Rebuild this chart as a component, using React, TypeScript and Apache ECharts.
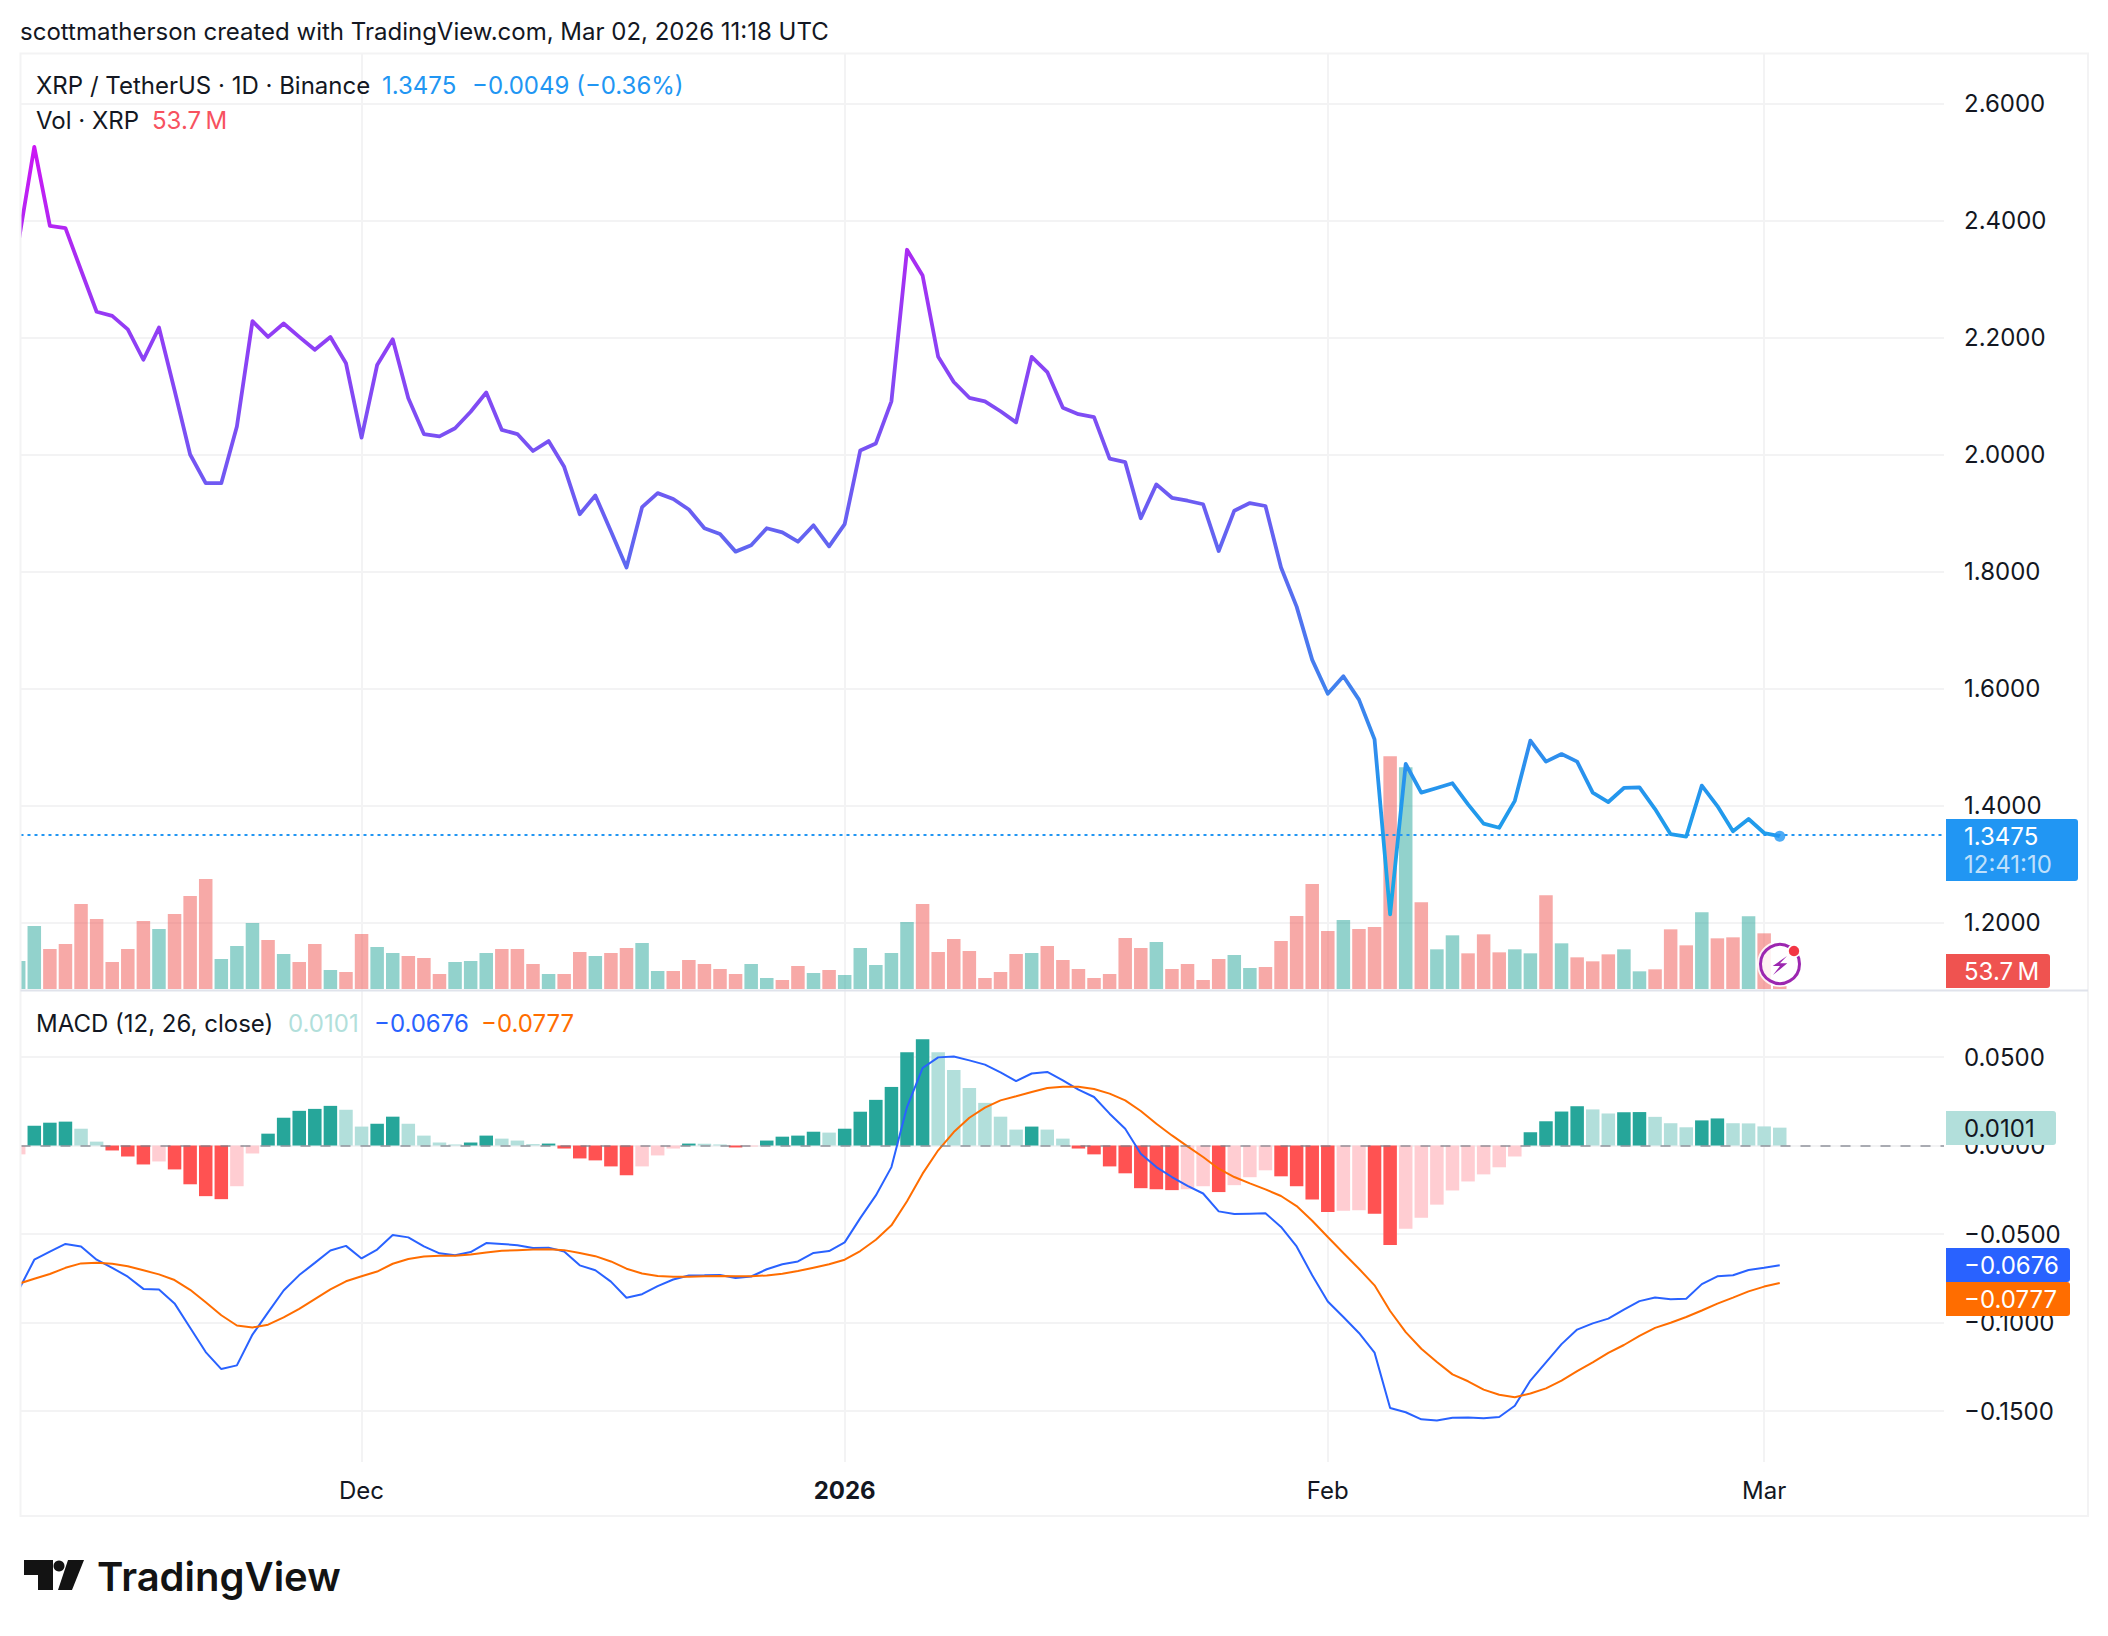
// App.tsx - XRP/USDT daily chart with volume and MACD panes
import React, { useEffect, useRef } from 'react';
import * as echarts from 'echarts';

// x values count days from Nov 9 2025
const priceTicks = [1.2, 1.4, 1.6, 1.8, 2.0, 2.2, 2.4, 2.6];
const macdTicks = [0.05, 0, -0.05, -0.1, -0.15];
const monthTicks = [22, 53, 84, 112];
const monthLabels = ['Dec', '{year|2026}', 'Feb', 'Mar'];

const closes = [
  2.365, 2.526, 2.391, 2.387, 2.315, 2.244, 2.237, 2.214, 2.162, 2.217,
  2.110, 2.000, 1.951, 1.951, 2.048, 2.228, 2.201, 2.224, 2.201, 2.179,
  2.201, 2.156, 2.029, 2.153, 2.197, 2.096, 2.035, 2.031, 2.045, 2.073,
  2.106, 2.042, 2.035, 2.006, 2.023, 1.979, 1.898, 1.930, 1.869, 1.807,
  1.910, 1.934, 1.924, 1.906, 1.874, 1.864, 1.834, 1.845, 1.874, 1.867,
  1.851, 1.879, 1.843, 1.881, 2.007, 2.019, 2.091, 2.350, 2.306, 2.167,
  2.124, 2.097, 2.091, 2.074, 2.055, 2.167, 2.141, 2.080, 2.069, 2.064,
  1.993, 1.987, 1.891, 1.949, 1.926, 1.921, 1.915, 1.835, 1.904, 1.917,
  1.912, 1.807, 1.740, 1.649, 1.591, 1.621, 1.581, 1.513, 1.214, 1.471,
  1.422, 1.430, 1.438, 1.402, 1.369, 1.362, 1.408, 1.511, 1.475, 1.488,
  1.475, 1.422, 1.406, 1.430, 1.431, 1.394, 1.351, 1.347, 1.434, 1.399,
  1.356, 1.377, 1.353, 1.3475,
];

// millions of XRP
const volumes = [
  504, 1134, 720, 810, 1530, 1260, 486, 720, 1224, 1080,
  1350, 1674, 1980, 540, 774, 1188, 882, 630, 486, 810,
  342, 306, 990, 756, 648, 594, 558, 270, 486, 504,
  648, 720, 720, 450, 270, 270, 666, 594, 648, 738,
  828, 324, 324, 522, 450, 360, 270, 450, 198, 162,
  414, 288, 342, 252, 738, 432, 648, 1206, 1530, 666,
  900, 684, 198, 306, 630, 648, 774, 522, 360, 198,
  270, 918, 738, 846, 360, 450, 162, 540, 612, 378,
  396, 864, 1314, 1890, 1044, 1242, 1080, 1116, 4188, 3990,
  1560, 714, 966, 642, 984, 660, 714, 642, 1686, 822,
  570, 498, 624, 714, 318, 354, 1074, 786, 1380, 912,
  930, 1308, 1002, 53.7,
];
const upDays = [
  0, 1, 9, 13, 14, 15, 17, 20, 23, 24, 28, 29, 30, 34, 37, 40, 41, 47, 48, 51,
  53, 54, 55, 56, 57, 65, 73, 78, 79, 85, 89, 91, 92, 96, 97, 99, 103, 104, 108, 111,
];

const histogram = [
  -0.0050, 0.0112, 0.0129, 0.0135, 0.0095, 0.0022, -0.0028, -0.0062, -0.0107, -0.0090,
  -0.0135, -0.0219, -0.0286, -0.0303, -0.0230, -0.0045, 0.0067, 0.0157, 0.0196, 0.0207,
  0.0224, 0.0202, 0.0107, 0.0123, 0.0163, 0.0123, 0.0056, 0.0017, 0.0006, 0.0017,
  0.0056, 0.0039, 0.0028, 0.0008, 0.0011, -0.0017, -0.0073, -0.0084, -0.0118, -0.0168,
  -0.0118, -0.0056, -0.0017, 0.0011, 0.0010, 0.0006, -0.0011, -0.0006, 0.0028, 0.0050,
  0.0056, 0.0078, 0.0073, 0.0095, 0.0191, 0.0258, 0.0331, 0.0527, 0.0600, 0.0527,
  0.0426, 0.0325, 0.0241, 0.0163, 0.0090, 0.0107, 0.0090, 0.0039, -0.0017, -0.0050,
  -0.0118, -0.0157, -0.0241, -0.0247, -0.0252, -0.0247, -0.0230, -0.0263, -0.0224, -0.0179,
  -0.0140, -0.0174, -0.0230, -0.0305, -0.0375, -0.0368, -0.0366, -0.0385, -0.0562, -0.0470,
  -0.0408, -0.0334, -0.0254, -0.0203, -0.0163, -0.0123, -0.0062, 0.0075, 0.0137, 0.0192,
  0.0222, 0.0204, 0.0181, 0.0188, 0.0189, 0.0162, 0.0126, 0.0103, 0.0142, 0.0153,
  0.0126, 0.0125, 0.0108, 0.0101,
];

const macdLine = [
  -0.0817, -0.0645, -0.0599, -0.0556, -0.0570, -0.0645, -0.0691, -0.0741, -0.0810, -0.0814,
  -0.0892, -0.1030, -0.1167, -0.1263, -0.1242, -0.1068, -0.0943, -0.0819, -0.0732, -0.0663,
  -0.0593, -0.0567, -0.0638, -0.0588, -0.0506, -0.0519, -0.0570, -0.0609, -0.0620, -0.0602,
  -0.0551, -0.0556, -0.0563, -0.0579, -0.0577, -0.0599, -0.0677, -0.0705, -0.0769, -0.0860,
  -0.0840, -0.0794, -0.0757, -0.0734, -0.0733, -0.0731, -0.0748, -0.0740, -0.0699, -0.0671,
  -0.0655, -0.0607, -0.0596, -0.0547, -0.0410, -0.0282, -0.0122, 0.0217, 0.0438, 0.0498,
  0.0503, 0.0481, 0.0457, 0.0413, 0.0364, 0.0407, 0.0416, 0.0368, 0.0316, 0.0274,
  0.0180, 0.0095, -0.0046, -0.0122, -0.0178, -0.0228, -0.0271, -0.0372, -0.0387, -0.0385,
  -0.0383, -0.0460, -0.0570, -0.0733, -0.0881, -0.0969, -0.1059, -0.1170, -0.1483, -0.1507,
  -0.1547, -0.1553, -0.1538, -0.1536, -0.1541, -0.1534, -0.1470, -0.1328, -0.1225, -0.1122,
  -0.1040, -0.1005, -0.0978, -0.0927, -0.0879, -0.0859, -0.0868, -0.0866, -0.0783, -0.0739,
  -0.0733, -0.0703, -0.0691, -0.0676,
];

const signalLine = [
  -0.0781, -0.0753, -0.0726, -0.0691, -0.0666, -0.0662, -0.0668, -0.0682, -0.0705, -0.0728,
  -0.0760, -0.0815, -0.0886, -0.0959, -0.1017, -0.1028, -0.1012, -0.0971, -0.0923, -0.0868,
  -0.0813, -0.0767, -0.0739, -0.0712, -0.0668, -0.0641, -0.0627, -0.0623, -0.0623, -0.0616,
  -0.0604, -0.0595, -0.0591, -0.0588, -0.0586, -0.0591, -0.0607, -0.0625, -0.0655, -0.0696,
  -0.0723, -0.0737, -0.0742, -0.0741, -0.0739, -0.0737, -0.0739, -0.0739, -0.0734, -0.0724,
  -0.0709, -0.0690, -0.0671, -0.0645, -0.0596, -0.0532, -0.0451, -0.0315, -0.0159, -0.0027,
  0.0076, 0.0157, 0.0214, 0.0255, 0.0278, 0.0302, 0.0325, 0.0332, 0.0332, 0.0319,
  0.0293, 0.0255, 0.0195, 0.0123, 0.0057, -0.0005, -0.0065, -0.0131, -0.0178, -0.0214,
  -0.0248, -0.0285, -0.0342, -0.0425, -0.0517, -0.0607, -0.0696, -0.0790, -0.0935, -0.1054,
  -0.1148, -0.1223, -0.1293, -0.1332, -0.1379, -0.1408, -0.1422, -0.1401, -0.1372, -0.1328,
  -0.1275, -0.1225, -0.1172, -0.1127, -0.1076, -0.1030, -0.1001, -0.0969, -0.0932, -0.0893,
  -0.0859, -0.0824, -0.0797, -0.0777,
];

const FONT = 'Inter, "Noto Sans", sans-serif';
const INK = '#131722';
const GRID = '#f3f3f4';
const BLUE = '#2196f3';
const MACD_BLUE = '#2962ff';
const SIGNAL = '#ff6d00';
const fmt = (v: number) => v.toFixed(4).replace('-', '\u2212');

const label = (x: number, y: number, text: string, fill: string, size = 24, weight = 400) => ({
  type: 'text',
  z: 110,
  x,
  y,
  style: { text, fill, font: `${weight} ${size}px ${FONT}`, verticalAlign: 'middle' },
});

const tag = (x: number, y: number, width: number, height: number, fill: string) => ({
  type: 'rect',
  z: 105,
  shape: { x, y, width, height, r: [0, 3, 3, 0] },
  style: { fill },
});

const buildOption = () => {
  const histColor = (i: number) => {
    const v = histogram[i];
    const rising = i === 0 || v > histogram[i - 1];
    if (v >= 0) return rising ? '#26a69a' : '#b2dfdb';
    return rising ? '#ffcdd2' : '#ff5252';
  };

  const xCommon = {
    type: 'value',
    min: 0.115,
    max: 123.54,
    axisLine: { show: false },
    axisTick: { show: false, customValues: monthTicks },
    splitLine: { show: true, lineStyle: { color: GRID, width: 2 } },
  };
  const yCommon = {
    type: 'value',
    position: 'right',
    axisLine: { show: false },
    splitLine: { show: true, lineStyle: { color: GRID, width: 2 } },
  };

  return {
    animation: false,
    backgroundColor: '#ffffff',
    grid: [
      { left: 20.5, width: 1923.5, top: 53.5, height: 937 },
      { left: 20.5, width: 1923.5, top: 991, height: 471 },
    ],
    xAxis: [
      { ...xCommon, gridIndex: 0, axisLabel: { show: false } },
      {
        ...xCommon,
        gridIndex: 1,
        axisLabel: {
          show: true,
          customValues: monthTicks,
          margin: 16,
          color: INK,
          fontFamily: FONT,
          fontSize: 24,
          hideOverlap: false,
          formatter: (v: number) => monthLabels[monthTicks.indexOf(v)] ?? '',
          rich: { year: { fontFamily: FONT, fontSize: 24, fontWeight: 700, color: INK } },
        },
      },
    ],
    yAxis: [
      {
        ...yCommon,
        gridIndex: 0,
        min: 1.0838,
        max: 2.6855,
        axisTick: { show: false, customValues: priceTicks },
        axisLabel: { customValues: priceTicks, margin: 20, color: INK, fontFamily: FONT, fontSize: 24, formatter: fmt },
      },
      {
        type: 'value',
        gridIndex: 0,
        min: -27,
        max: 16839,
        show: false,
        splitLine: { show: false },
      },
      {
        ...yCommon,
        gridIndex: 1,
        min: -0.1788,
        max: 0.0873,
        axisTick: { show: false, customValues: macdTicks },
        axisLabel: { customValues: macdTicks, margin: 20, color: INK, fontFamily: FONT, fontSize: 24, formatter: fmt },
      },
    ],
    series: [
      {
        type: 'bar',
        name: 'Vol',
        xAxisIndex: 0,
        yAxisIndex: 1,
        barWidth: 13.5,
        z: 1,
        data: volumes.map((v, i) => ({
          value: [i, v],
          itemStyle: { color: upDays.includes(i) ? 'rgba(38,166,154,0.5)' : 'rgba(239,83,80,0.5)' },
        })),
      },
      {
        type: 'line',
        name: 'Price',
        xAxisIndex: 0,
        yAxisIndex: 0,
        symbol: 'none',
        z: 3,
        lineStyle: {
          width: 3.8,
          join: 'round',
          color: new echarts.graphic.LinearGradient(0, 0, 0, 1, [
            { offset: 0, color: '#cc17f5' },
            { offset: 0.135, color: '#ab2bf2' },
            { offset: 0.25, color: '#8f3ff5' },
            { offset: 0.46, color: '#6c5cf2' },
            { offset: 0.72, color: '#3e83ee' },
            { offset: 0.85, color: '#2397ed' },
            { offset: 1, color: '#18abe6' },
          ]),
        },
        data: closes.map((v, i) => [i, v]),
        markLine: {
          silent: true,
          symbol: 'none',
          label: { show: false },
          lineStyle: { color: BLUE, width: 2, type: [3, 4] },
          data: [{ yAxis: closes[closes.length - 1] }],
        },
      },
      {
        type: 'scatter',
        name: 'Last',
        xAxisIndex: 0,
        yAxisIndex: 0,
        symbolSize: 11,
        z: 4,
        itemStyle: { color: BLUE },
        data: [[closes.length - 1, closes[closes.length - 1]]],
      },
      {
        type: 'bar',
        name: 'Histogram',
        xAxisIndex: 1,
        yAxisIndex: 2,
        barWidth: 13.5,
        z: 1,
        data: histogram.map((v, i) => ({ value: [i, v], itemStyle: { color: histColor(i) } })),
        markLine: {
          silent: true,
          symbol: 'none',
          label: { show: false },
          lineStyle: { color: 'rgba(120,123,134,0.6)', width: 2, type: [10, 10] },
          data: [{ yAxis: 0 }],
        },
      },
      {
        type: 'line',
        name: 'MACD',
        xAxisIndex: 1,
        yAxisIndex: 2,
        symbol: 'none',
        z: 3,
        lineStyle: { color: MACD_BLUE, width: 2 },
        data: macdLine.map((v, i) => [i, v]),
      },
      {
        type: 'line',
        name: 'Signal',
        xAxisIndex: 1,
        yAxisIndex: 2,
        symbol: 'none',
        z: 3,
        lineStyle: { color: SIGNAL, width: 2 },
        data: signalLine.map((v, i) => [i, v]),
      },
    ],
    graphic: [
      // the first day's bars run past the pane edge on a value axis, so mask them
      { type: 'rect', z: 90, shape: { x: 0, y: 53, width: 20, height: 1464 }, style: { fill: '#ffffff' } },

      // outer frame and pane separator
      { type: 'rect', z: 91, shape: { x: 20.5, y: 53.5, width: 2067.5, height: 1462.5 }, style: { fill: 'none', stroke: GRID, lineWidth: 2 } },
      { type: 'line', z: 91, shape: { x1: 20.5, y1: 990.5, x2: 2088, y2: 990.5 }, style: { stroke: '#e0e3eb', lineWidth: 2 } },

      // header and legends
      label(20, 31, 'scottmatherson created with TradingView.com, Mar 02, 2026 11:18 UTC', INK),
      label(36, 85, 'XRP / TetherUS \u00b7 1D \u00b7 Binance', INK),
      label(382, 85, '1.3475', BLUE),
      label(472, 85, '\u22120.0049 (\u22120.36%)', BLUE),
      label(36, 120, 'Vol \u00b7 XRP', INK),
      label(152, 120, '53.7\u2009M', '#f7525f'),
      label(36, 1023, 'MACD (12, 26, close)', INK),
      label(288, 1023, '0.0101', '#b2dfdb'),
      label(374, 1023, '\u22120.0676', MACD_BLUE),
      label(481, 1023, '\u22120.0777', SIGNAL),

      // price scale tags
      tag(1946, 819, 132, 62, BLUE),
      label(1964, 836, '1.3475', '#ffffff'),
      label(1964, 864, '12:41:10', '#bfe0fb'),
      tag(1946, 954, 104, 34, '#ef5350'),
      label(1964, 971, '53.7\u2009M', '#ffffff'),
      tag(1946, 1111, 110, 34, '#b2dfdb'),
      label(1964, 1128, '0.0101', INK),
      tag(1946, 1248, 124, 34, MACD_BLUE),
      label(1964, 1265, '\u22120.0676', '#ffffff'),
      tag(1946, 1282, 124, 34, SIGNAL),
      label(1964, 1299, '\u22120.0777', '#ffffff'),

      // bolt badge
      { type: 'circle', z: 106, shape: { cx: 1780, cy: 964, r: 23 }, style: { fill: 'rgba(255,255,255,0.85)' } },
      { type: 'circle', z: 107, shape: { cx: 1780, cy: 964, r: 19.5 }, style: { fill: 'none', stroke: '#9c27b0', lineWidth: 3 } },
      {
        type: 'polygon',
        z: 107,
        shape: { points: [[1787, 956], [1772.7, 966], [1780, 966], [1773, 975], [1787.3, 963.3], [1780, 963.3]] },
        style: { fill: '#9c27b0' },
      },
      { type: 'circle', z: 108, shape: { cx: 1794, cy: 951, r: 6 }, style: { fill: '#f23645', stroke: '#ffffff', lineWidth: 1.5 } },

      // logo
      { type: 'polygon', z: 100, shape: { points: [[24, 1560], [53, 1560], [53, 1590], [38, 1590], [38, 1575], [24, 1575]] }, style: { fill: '#131313' } },
      { type: 'circle', z: 100, shape: { cx: 59, cy: 1566, r: 5.5 }, style: { fill: '#131313' } },
      { type: 'polygon', z: 100, shape: { points: [[68, 1560], [84, 1560], [72, 1590], [58, 1590]] }, style: { fill: '#131313' } },
      label(97, 1576, 'TradingView', '#131313', 40, 600),
    ],
  };
};

const App: React.FC = () => {
  const chartRef = useRef<HTMLDivElement>(null);

  useEffect(() => {
    if (!chartRef.current) return;
    const chart = echarts.init(chartRef.current, undefined, { renderer: 'svg' });
    chart.setOption(buildOption() as echarts.EChartsOption);
    return () => chart.dispose();
  }, []);

  return <div ref={chartRef} style={{ position: 'absolute', left: 0, top: 0, width: 2108, height: 1636 }} />;
};

export default App;
